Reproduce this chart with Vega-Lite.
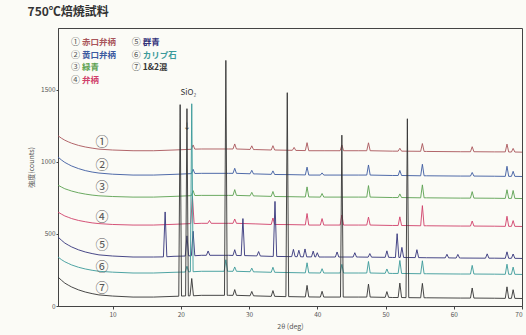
{
"$schema":"https://vega.github.io/schema/vega-lite/v6.json",
"width":464,"height":278,
"autosize":{"type":"none"},
"padding":{"left":58,"top":28,"right":4,"bottom":29},
"background":"#fbfbf6",
"title":{"text":"750℃焙焼試料","anchor":"start","fontSize":12,"fontWeight":"bold","color":"#333333","offset":9,"font":"Noto Sans CJK JP"},
"config":{"view":{"stroke":"#444444","strokeWidth":1},"font":"Noto Sans CJK JP"},
"datasets":{
"tr":[
{"s":"1","x":2,"y":1182},{"s":"1","x":2.5,"y":1165},{"s":"1","x":3,"y":1151},{"s":"1","x":3.5,"y":1140},{"s":"1","x":4,"y":1130},{"s":"1","x":5,"y":1115},{"s":"1","x":6,"y":1104},{"s":"1","x":7,"y":1096},{"s":"1","x":8,"y":1089},{"s":"1","x":10,"y":1083},{"s":"1","x":13,"y":1078},{"s":"1","x":16,"y":1078},{"s":"1","x":19,"y":1083},{"s":"1","x":23,"y":1090},{"s":"1","x":27,"y":1090},{"s":"1","x":31,"y":1086},{"s":"1","x":36,"y":1081},{"s":"1","x":41,"y":1078},{"s":"1","x":46,"y":1078},{"s":"1","x":51,"y":1075},{"s":"1","x":56,"y":1073},{"s":"1","x":61,"y":1071},{"s":"1","x":66,"y":1070},{"s":"1","x":70,"y":1068},
{"s":"1","x":21.55,"y":1088},{"s":"1","x":21.8,"y":1118},{"s":"1","x":22.05,"y":1089},{"s":"1","x":27.65,"y":1090},{"s":"1","x":27.9,"y":1125},{"s":"1","x":28.15,"y":1090},{"s":"1","x":30.15,"y":1087},{"s":"1","x":30.4,"y":1112},{"s":"1","x":30.65,"y":1086},{"s":"1","x":33.25,"y":1083},{"s":"1","x":33.5,"y":1113},{"s":"1","x":33.75,"y":1083},{"s":"1","x":36.35,"y":1081},{"s":"1","x":36.6,"y":1101},{"s":"1","x":36.85,"y":1080},{"s":"1","x":38.25,"y":1079},{"s":"1","x":38.5,"y":1134},{"s":"1","x":38.75,"y":1078},{"s":"1","x":43.35,"y":1078},{"s":"1","x":43.6,"y":1118},{"s":"1","x":43.85,"y":1078},{"s":"1","x":47.25,"y":1078},{"s":"1","x":47.5,"y":1133},{"s":"1","x":47.75,"y":1078},{"s":"1","x":51.85,"y":1075},{"s":"1","x":52.1,"y":1095},{"s":"1","x":52.35,"y":1075},{"s":"1","x":55.15,"y":1074},{"s":"1","x":55.4,"y":1128},{"s":"1","x":55.65,"y":1073},{"s":"1","x":62.45,"y":1071},{"s":"1","x":62.7,"y":1106},{"s":"1","x":62.95,"y":1071},{"s":"1","x":67.55,"y":1070},{"s":"1","x":67.8,"y":1124},{"s":"1","x":68.05,"y":1069},{"s":"1","x":68.45,"y":1069},{"s":"1","x":68.7,"y":1094},{"s":"1","x":68.95,"y":1069},
{"s":"2","x":2,"y":1034},{"s":"2","x":2.5,"y":1014},{"s":"2","x":3,"y":997},{"s":"2","x":3.5,"y":984},{"s":"2","x":4,"y":972},{"s":"2","x":5,"y":954},{"s":"2","x":6,"y":940},{"s":"2","x":7,"y":930},{"s":"2","x":8,"y":923},{"s":"2","x":10,"y":915},{"s":"2","x":13,"y":909},{"s":"2","x":16,"y":909},{"s":"2","x":19,"y":914},{"s":"2","x":23,"y":921},{"s":"2","x":27,"y":921},{"s":"2","x":31,"y":917},{"s":"2","x":36,"y":912},{"s":"2","x":41,"y":909},{"s":"2","x":46,"y":909},{"s":"2","x":51,"y":906},{"s":"2","x":56,"y":904},{"s":"2","x":61,"y":902},{"s":"2","x":66,"y":901},{"s":"2","x":70,"y":899},
{"s":"2","x":21.55,"y":919},{"s":"2","x":21.8,"y":949},{"s":"2","x":22.05,"y":920},{"s":"2","x":27.65,"y":921},{"s":"2","x":27.9,"y":956},{"s":"2","x":28.15,"y":921},{"s":"2","x":30.15,"y":918},{"s":"2","x":30.4,"y":942},{"s":"2","x":30.65,"y":917},{"s":"2","x":33.25,"y":914},{"s":"2","x":33.5,"y":938},{"s":"2","x":33.75,"y":913},{"s":"2","x":38.25,"y":910},{"s":"2","x":38.5,"y":964},{"s":"2","x":38.75,"y":909},{"s":"2","x":40.45,"y":909},{"s":"2","x":40.7,"y":924},{"s":"2","x":40.95,"y":909},{"s":"2","x":47.25,"y":909},{"s":"2","x":47.5,"y":979},{"s":"2","x":47.75,"y":909},{"s":"2","x":51.85,"y":906},{"s":"2","x":52.1,"y":941},{"s":"2","x":52.35,"y":906},{"s":"2","x":55.15,"y":904},{"s":"2","x":55.4,"y":984},{"s":"2","x":55.65,"y":904},{"s":"2","x":62.45,"y":902},{"s":"2","x":62.7,"y":927},{"s":"2","x":62.95,"y":902},{"s":"2","x":67.55,"y":900},{"s":"2","x":67.8,"y":970},{"s":"2","x":68.05,"y":900},{"s":"2","x":68.45,"y":900},{"s":"2","x":68.7,"y":935},{"s":"2","x":68.95,"y":900},
{"s":"3","x":2,"y":839},{"s":"3","x":2.5,"y":826},{"s":"3","x":3,"y":814},{"s":"3","x":3.5,"y":806},{"s":"3","x":4,"y":798},{"s":"3","x":5,"y":786},{"s":"3","x":6,"y":777},{"s":"3","x":7,"y":770},{"s":"3","x":8,"y":765},{"s":"3","x":10,"y":760},{"s":"3","x":13,"y":756},{"s":"3","x":16,"y":756},{"s":"3","x":19,"y":761},{"s":"3","x":23,"y":768},{"s":"3","x":27,"y":768},{"s":"3","x":31,"y":764},{"s":"3","x":36,"y":759},{"s":"3","x":41,"y":756},{"s":"3","x":46,"y":756},{"s":"3","x":51,"y":753},{"s":"3","x":56,"y":751},{"s":"3","x":61,"y":749},{"s":"3","x":66,"y":748},{"s":"3","x":70,"y":746},
{"s":"3","x":21.55,"y":766},{"s":"3","x":21.8,"y":801},{"s":"3","x":22.05,"y":767},{"s":"3","x":27.65,"y":768},{"s":"3","x":27.9,"y":808},{"s":"3","x":28.15,"y":768},{"s":"3","x":30.15,"y":765},{"s":"3","x":30.4,"y":789},{"s":"3","x":30.65,"y":764},{"s":"3","x":33.25,"y":761},{"s":"3","x":33.5,"y":795},{"s":"3","x":33.75,"y":760},{"s":"3","x":38.25,"y":757},{"s":"3","x":38.5,"y":827},{"s":"3","x":38.75,"y":757},{"s":"3","x":40.45,"y":756},{"s":"3","x":40.7,"y":781},{"s":"3","x":40.95,"y":756},{"s":"3","x":47.25,"y":756},{"s":"3","x":47.5,"y":836},{"s":"3","x":47.75,"y":756},{"s":"3","x":51.85,"y":753},{"s":"3","x":52.1,"y":778},{"s":"3","x":52.35,"y":753},{"s":"3","x":55.15,"y":751},{"s":"3","x":55.4,"y":841},{"s":"3","x":55.65,"y":751},{"s":"3","x":62.45,"y":749},{"s":"3","x":62.7,"y":794},{"s":"3","x":62.95,"y":749},{"s":"3","x":67.55,"y":747},{"s":"3","x":67.8,"y":807},{"s":"3","x":68.05,"y":747},{"s":"3","x":68.45,"y":747},{"s":"3","x":68.7,"y":802},{"s":"3","x":68.95,"y":747},
{"s":"4","x":2,"y":652},{"s":"4","x":2.5,"y":638},{"s":"4","x":3,"y":625},{"s":"4","x":3.5,"y":616},{"s":"4","x":4,"y":607},{"s":"4","x":5,"y":594},{"s":"4","x":6,"y":585},{"s":"4","x":7,"y":577},{"s":"4","x":8,"y":572},{"s":"4","x":10,"y":566},{"s":"4","x":13,"y":562},{"s":"4","x":16,"y":562},{"s":"4","x":19,"y":567},{"s":"4","x":23,"y":574},{"s":"4","x":27,"y":574},{"s":"4","x":31,"y":570},{"s":"4","x":36,"y":565},{"s":"4","x":41,"y":562},{"s":"4","x":46,"y":562},{"s":"4","x":51,"y":559},{"s":"4","x":56,"y":557},{"s":"4","x":61,"y":555},{"s":"4","x":66,"y":554},{"s":"4","x":70,"y":552},
{"s":"4","x":21.45,"y":572},{"s":"4","x":21.7,"y":759},{"s":"4","x":21.95,"y":572},{"s":"4","x":23.95,"y":574},{"s":"4","x":24.2,"y":594},{"s":"4","x":24.45,"y":574},{"s":"4","x":27.65,"y":574},{"s":"4","x":27.9,"y":604},{"s":"4","x":28.15,"y":574},{"s":"4","x":33.25,"y":566},{"s":"4","x":33.5,"y":611},{"s":"4","x":33.75,"y":566},{"s":"4","x":38.25,"y":563},{"s":"4","x":38.5,"y":642},{"s":"4","x":38.75,"y":562},{"s":"4","x":40.45,"y":562},{"s":"4","x":40.7,"y":607},{"s":"4","x":40.95,"y":562},{"s":"4","x":43.35,"y":562},{"s":"4","x":43.6,"y":632},{"s":"4","x":43.85,"y":562},{"s":"4","x":47.25,"y":562},{"s":"4","x":47.5,"y":617},{"s":"4","x":47.75,"y":562},{"s":"4","x":51.85,"y":559},{"s":"4","x":52.1,"y":619},{"s":"4","x":52.35,"y":559},{"s":"4","x":55.15,"y":557},{"s":"4","x":55.4,"y":697},{"s":"4","x":55.65,"y":557},{"s":"4","x":62.45,"y":555},{"s":"4","x":62.7,"y":590},{"s":"4","x":62.95,"y":555},{"s":"4","x":67.55,"y":553},{"s":"4","x":67.8,"y":623},{"s":"4","x":68.05,"y":553},{"s":"4","x":68.45,"y":553},{"s":"4","x":68.7,"y":593},{"s":"4","x":68.95,"y":553},
{"s":"5","x":2,"y":479},{"s":"5","x":2.5,"y":457},{"s":"5","x":3,"y":437},{"s":"5","x":3.5,"y":423},{"s":"5","x":4,"y":410},{"s":"5","x":5,"y":390},{"s":"5","x":6,"y":375},{"s":"5","x":7,"y":364},{"s":"5","x":8,"y":355},{"s":"5","x":10,"y":347},{"s":"5","x":13,"y":340},{"s":"5","x":16,"y":340},{"s":"5","x":19,"y":345},{"s":"5","x":23,"y":352},{"s":"5","x":27,"y":352},{"s":"5","x":31,"y":348},{"s":"5","x":36,"y":343},{"s":"5","x":41,"y":340},{"s":"5","x":46,"y":340},{"s":"5","x":51,"y":337},{"s":"5","x":56,"y":335},{"s":"5","x":61,"y":333},{"s":"5","x":66,"y":332},{"s":"5","x":70,"y":330},
{"s":"5","x":17.45,"y":341},{"s":"5","x":17.7,"y":653},{"s":"5","x":17.95,"y":342},{"s":"5","x":20.65,"y":347},{"s":"5","x":20.9,"y":487},{"s":"5","x":21.15,"y":348},{"s":"5","x":21.55,"y":349},{"s":"5","x":21.8,"y":519},{"s":"5","x":22.05,"y":349},{"s":"5","x":23.75,"y":352},{"s":"5","x":24.0,"y":382},{"s":"5","x":24.25,"y":352},{"s":"5","x":27.65,"y":351},{"s":"5","x":27.9,"y":391},{"s":"5","x":28.15,"y":351},{"s":"5","x":28.85,"y":350},{"s":"5","x":29.1,"y":607},{"s":"5","x":29.35,"y":350},{"s":"5","x":31.15,"y":348},{"s":"5","x":31.4,"y":378},{"s":"5","x":31.65,"y":347},{"s":"5","x":33.55,"y":344},{"s":"5","x":33.8,"y":726},{"s":"5","x":34.05,"y":344},{"s":"5","x":36.25,"y":343},{"s":"5","x":36.5,"y":393},{"s":"5","x":36.75,"y":343},{"s":"5","x":37.05,"y":342},{"s":"5","x":37.3,"y":387},{"s":"5","x":37.55,"y":342},{"s":"5","x":37.95,"y":341},{"s":"5","x":38.2,"y":396},{"s":"5","x":38.45,"y":341},{"s":"5","x":39.15,"y":341},{"s":"5","x":39.4,"y":381},{"s":"5","x":39.65,"y":340},{"s":"5","x":39.75,"y":340},{"s":"5","x":40.0,"y":370},{"s":"5","x":40.25,"y":340},{"s":"5","x":42.65,"y":340},{"s":"5","x":42.9,"y":375},{"s":"5","x":43.15,"y":340},{"s":"5","x":45.25,"y":340},{"s":"5","x":45.5,"y":370},{"s":"5","x":45.75,"y":340},{"s":"5","x":47.45,"y":339},{"s":"5","x":47.7,"y":364},{"s":"5","x":47.95,"y":339},{"s":"5","x":49.95,"y":338},{"s":"5","x":50.2,"y":383},{"s":"5","x":50.45,"y":338},{"s":"5","x":51.45,"y":337},{"s":"5","x":51.7,"y":502},{"s":"5","x":51.95,"y":337},{"s":"5","x":52.15,"y":337},{"s":"5","x":52.4,"y":407},{"s":"5","x":52.65,"y":337},{"s":"5","x":54.35,"y":336},{"s":"5","x":54.6,"y":391},{"s":"5","x":54.85,"y":336},{"s":"5","x":58.75,"y":334},{"s":"5","x":59.0,"y":359},{"s":"5","x":59.25,"y":334},{"s":"5","x":60.35,"y":333},{"s":"5","x":60.6,"y":358},{"s":"5","x":60.85,"y":333},{"s":"5","x":64.65,"y":332},{"s":"5","x":64.9,"y":362},{"s":"5","x":65.15,"y":332},{"s":"5","x":67.55,"y":331},{"s":"5","x":67.8,"y":376},{"s":"5","x":68.05,"y":331},{"s":"5","x":68.45,"y":331},{"s":"5","x":68.7,"y":361},{"s":"5","x":68.95,"y":331},
{"s":"6","x":2,"y":340},{"s":"6","x":2.5,"y":322},{"s":"6","x":3,"y":307},{"s":"6","x":3.5,"y":296},{"s":"6","x":4,"y":285},{"s":"6","x":5,"y":269},{"s":"6","x":6,"y":257},{"s":"6","x":7,"y":248},{"s":"6","x":8,"y":241},{"s":"6","x":10,"y":235},{"s":"6","x":13,"y":229},{"s":"6","x":16,"y":229},{"s":"6","x":19,"y":234},{"s":"6","x":23,"y":241},{"s":"6","x":27,"y":241},{"s":"6","x":31,"y":237},{"s":"6","x":36,"y":232},{"s":"6","x":41,"y":229},{"s":"6","x":46,"y":229},{"s":"6","x":51,"y":226},{"s":"6","x":56,"y":224},{"s":"6","x":61,"y":222},{"s":"6","x":66,"y":221},{"s":"6","x":70,"y":219},
{"s":"6","x":20.65,"y":236},{"s":"6","x":20.9,"y":276},{"s":"6","x":21.15,"y":237},{"s":"6","x":21.4,"y":238},{"s":"6","x":21.6,"y":1404},{"s":"6","x":21.8,"y":238},{"s":"6","x":26.35,"y":241},{"s":"6","x":26.6,"y":321},{"s":"6","x":26.85,"y":241},{"s":"6","x":27.65,"y":241},{"s":"6","x":27.9,"y":271},{"s":"6","x":28.15,"y":241},{"s":"6","x":30.15,"y":238},{"s":"6","x":30.4,"y":263},{"s":"6","x":30.65,"y":237},{"s":"6","x":33.25,"y":234},{"s":"6","x":33.5,"y":269},{"s":"6","x":33.75,"y":234},{"s":"6","x":38.25,"y":230},{"s":"6","x":38.5,"y":300},{"s":"6","x":38.75,"y":230},{"s":"6","x":40.45,"y":229},{"s":"6","x":40.7,"y":259},{"s":"6","x":40.95,"y":229},{"s":"6","x":43.35,"y":229},{"s":"6","x":43.6,"y":289},{"s":"6","x":43.85,"y":229},{"s":"6","x":47.25,"y":229},{"s":"6","x":47.5,"y":309},{"s":"6","x":47.75,"y":229},{"s":"6","x":49.95,"y":227},{"s":"6","x":50.2,"y":257},{"s":"6","x":50.45,"y":227},{"s":"6","x":51.85,"y":226},{"s":"6","x":52.1,"y":316},{"s":"6","x":52.35,"y":226},{"s":"6","x":55.15,"y":224},{"s":"6","x":55.4,"y":314},{"s":"6","x":55.65,"y":224},{"s":"6","x":62.45,"y":222},{"s":"6","x":62.7,"y":282},{"s":"6","x":62.95,"y":222},{"s":"6","x":67.55,"y":220},{"s":"6","x":67.8,"y":290},{"s":"6","x":68.05,"y":220},{"s":"6","x":68.45,"y":220},{"s":"6","x":68.7,"y":270},{"s":"6","x":68.95,"y":220},
{"s":"7","x":2,"y":201},{"s":"7","x":2.5,"y":179},{"s":"7","x":3,"y":159},{"s":"7","x":3.5,"y":145},{"s":"7","x":4,"y":132},{"s":"7","x":5,"y":112},{"s":"7","x":6,"y":97},{"s":"7","x":7,"y":86},{"s":"7","x":8,"y":77},{"s":"7","x":10,"y":69},{"s":"7","x":13,"y":62},{"s":"7","x":16,"y":62},{"s":"7","x":19,"y":67},{"s":"7","x":23,"y":74},{"s":"7","x":27,"y":74},{"s":"7","x":31,"y":70},{"s":"7","x":36,"y":65},{"s":"7","x":41,"y":62},{"s":"7","x":46,"y":62},{"s":"7","x":51,"y":59},{"s":"7","x":56,"y":57},{"s":"7","x":61,"y":55},{"s":"7","x":66,"y":54},{"s":"7","x":70,"y":52},
{"s":"7","x":19.7,"y":68},{"s":"7","x":19.9,"y":1398},{"s":"7","x":20.1,"y":69},{"s":"7","x":20.7,"y":70},{"s":"7","x":20.9,"y":1370},{"s":"7","x":21.1,"y":70},{"s":"7","x":21.35,"y":71},{"s":"7","x":21.6,"y":191},{"s":"7","x":21.85,"y":71},{"s":"7","x":26.4,"y":74},{"s":"7","x":26.6,"y":1705},{"s":"7","x":26.8,"y":74},{"s":"7","x":27.65,"y":74},{"s":"7","x":27.9,"y":114},{"s":"7","x":28.15,"y":74},{"s":"7","x":30.15,"y":71},{"s":"7","x":30.4,"y":101},{"s":"7","x":30.65,"y":71},{"s":"7","x":33.25,"y":67},{"s":"7","x":33.5,"y":107},{"s":"7","x":33.75,"y":67},{"s":"7","x":35.4,"y":65},{"s":"7","x":35.6,"y":1481},{"s":"7","x":35.8,"y":65},{"s":"7","x":38.25,"y":63},{"s":"7","x":38.5,"y":143},{"s":"7","x":38.75,"y":63},{"s":"7","x":40.45,"y":62},{"s":"7","x":40.7,"y":102},{"s":"7","x":40.95,"y":62},{"s":"7","x":43.4,"y":62},{"s":"7","x":43.6,"y":1186},{"s":"7","x":43.8,"y":62},{"s":"7","x":47.25,"y":62},{"s":"7","x":47.5,"y":152},{"s":"7","x":47.75,"y":62},{"s":"7","x":49.95,"y":60},{"s":"7","x":50.2,"y":100},{"s":"7","x":50.45,"y":60},{"s":"7","x":51.85,"y":59},{"s":"7","x":52.1,"y":159},{"s":"7","x":52.35,"y":59},{"s":"7","x":53.0,"y":58},{"s":"7","x":53.2,"y":1300},{"s":"7","x":53.4,"y":58},{"s":"7","x":55.15,"y":57},{"s":"7","x":55.4,"y":157},{"s":"7","x":55.65,"y":57},{"s":"7","x":62.45,"y":55},{"s":"7","x":62.7,"y":125},{"s":"7","x":62.95,"y":55},{"s":"7","x":67.55,"y":53},{"s":"7","x":67.8,"y":133},{"s":"7","x":68.05,"y":53},{"s":"7","x":68.45,"y":53},{"s":"7","x":68.7,"y":113},{"s":"7","x":68.95,"y":53}
],
"lab":[
{"t":"①","x":8.45,"y":1138},{"t":"②","x":8.45,"y":979},{"t":"③","x":8.45,"y":826},{"t":"④","x":8.45,"y":618},{"t":"⑤","x":8.45,"y":423},{"t":"⑥","x":8.45,"y":271},{"t":"⑦","x":8.45,"y":125}
],
"leg":[
{"s":"1","n":"①","t":"赤口弁柄","x":3.9,"y":1832},
{"s":"2","n":"②","t":"黄口弁柄","x":3.9,"y":1745},
{"s":"3","n":"③","t":"緑青","x":3.9,"y":1658},
{"s":"4","n":"④","t":"弁柄","x":3.9,"y":1571},
{"s":"5","n":"⑤","t":"群青","x":12.8,"y":1832},
{"s":"6","n":"⑥","t":"カリプ石","x":12.8,"y":1745},
{"s":"7","n":"⑦","t":"1&2混","x":12.8,"y":1658}
],
"ann":[
{"t":"SiO₂","x":21.1,"y":1478},{"t":"↓","x":20.9,"y":1240}
]
},
"layer":[
{"data":{"name":"tr"},
 "mark":{"type":"line","strokeWidth":0.9,"clip":true},
 "encoding":{
  "x":{"field":"x","type":"quantitative","scale":{"domain":[2,70],"nice":false,"zero":false},
       "axis":{"title":"2θ (deg)","values":[10,20,30,40,50,60,70],"grid":false,"labelFontSize":6.5,"titleFontSize":7,"titleFontWeight":"normal","tickSize":3,"labelPadding":2,"titlePadding":5,"domainColor":"#444444","tickColor":"#444444","labelColor":"#555555","titleColor":"#555555"}},
  "y":{"field":"y","type":"quantitative","scale":{"domain":[0,1930],"nice":false},
       "axis":{"title":"強度(counts)","values":[0,500,1000,1500],"format":"d","grid":false,"labelFontSize":6.5,"titleFontSize":7,"titleFontWeight":"normal","tickSize":2,"labelPadding":1,"titlePadding":6,"domainColor":"#444444","tickColor":"#444444","labelColor":"#555555","titleColor":"#555555"}},
  "color":{"field":"s","type":"nominal","legend":null,
       "scale":{"domain":["1","2","3","4","5","6","7"],"range":["#a9555a","#3c5aa0","#5aa050","#d0406a","#33337a","#3a9a9a","#333333"]}}
 }},
{"data":{"name":"lab"},
 "mark":{"type":"text","fontSize":13,"color":"#555555","align":"center","baseline":"middle"},
 "encoding":{"x":{"field":"x","type":"quantitative"},"y":{"field":"y","type":"quantitative"},"text":{"field":"t"}}},
{"data":{"name":"leg"},
 "mark":{"type":"text","fontSize":9,"color":"#555555","align":"left","baseline":"middle"},
 "encoding":{"x":{"field":"x","type":"quantitative"},"y":{"field":"y","type":"quantitative"},"text":{"field":"n"}}},
{"data":{"name":"leg"},
 "mark":{"type":"text","fontSize":8.5,"fontWeight":"bold","align":"left","baseline":"middle","dx":11},
 "encoding":{"x":{"field":"x","type":"quantitative"},"y":{"field":"y","type":"quantitative"},"text":{"field":"t"},"color":{"field":"s","type":"nominal"}}},
{"data":{"name":"ann"},
 "mark":{"type":"text","fontSize":8,"color":"#333333","align":"center","baseline":"middle"},
 "encoding":{"x":{"field":"x","type":"quantitative"},"y":{"field":"y","type":"quantitative"},"text":{"field":"t"}}}
]
}
